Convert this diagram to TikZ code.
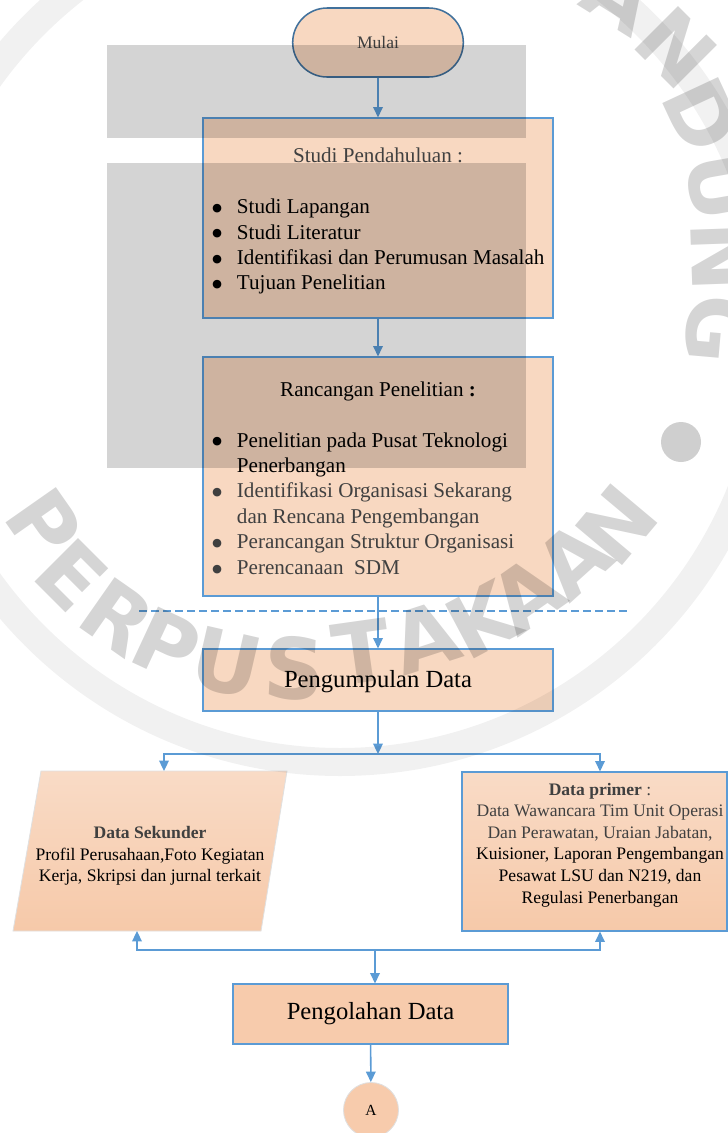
\documentclass[tikz,border=0pt]{standalone}
\usepackage{fontspec}
\usepackage{graphicx}
\setmainfont{Liberation Serif}
\newfontfamily\sealfont{DejaVu Sans}
\usetikzlibrary{arrows.meta,shapes.misc}

\definecolor{peach}{HTML}{F8D8C1}
\definecolor{peachdark}{HTML}{F7CBAC}
\definecolor{peachtop}{HTML}{F9DBC6}
\definecolor{peachbot}{HTML}{F6C9A9}
\definecolor{lineblue}{HTML}{5B9BD5}
\definecolor{edgeblue}{HTML}{41719C}
\definecolor{txtgray}{HTML}{404040}

\newcommand{\px}{0.025cm}
\newcommand{\bigdot}{\raisebox{-0.33em}[0pt][0pt]{\scalebox{1.7}{\textbullet}}}
\newcommand{\bitem}[1]{\makebox[0.65cm][l]{\bigdot}#1}
\newcommand{\toppad}{\rule{0pt}{15pt}}
\newcommand{\halfpad}{\rule{0pt}{12.5pt}}
\newcommand{\bodysize}{\fontsize{15}{18.1}\selectfont}
\newcommand{\smallsize}{\fontsize{12.5}{15.3}\selectfont}
\newcommand{\bigsize}{\fontsize{17.5}{21}\selectfont}

\begin{document}
\begin{tikzpicture}[x=0.025cm, y=-0.025cm,
  box/.style={rectangle, draw=lineblue, line width=0.8pt, fill=peach, inner sep=0pt},
  link/.style={draw=lineblue, line width=1.1pt},
  arrow/.style={link, -{Triangle[length=0.26cm,width=0.24cm]}},
  seal/.style={font=\sealfont\bfseries\fontsize{60}{60}\selectfont, text=black, opacity=0.165, inner sep=0pt},
]
\useasboundingbox (0,0) rectangle (728,1133);

% ---------- flow boxes ----------
\node[rounded rectangle, draw=edgeblue, line width=1.1pt, fill=peach,
      minimum width=180*\px, minimum height=69*\px, text=txtgray,
      font=\fontsize{12.5}{15}\selectfont] (mulai) at (378,42.5) {Mulai};

\node[box, minimum width=350*\px, minimum height=200*\px, align=left, font=\bodysize] (studi) at (378,218) {%
  \makebox[8.35cm][c]{\toppad\color{txtgray}Studi Pendahuluan :}\\[18.1pt]
  \bitem{Studi Lapangan}\\
  \bitem{Studi Literatur}\\
  \bitem{Identifikasi dan Perumusan Masalah}\\
  \bitem{Tujuan Penelitian}};

\node[box, minimum width=350*\px, minimum height=239*\px, align=left, font=\bodysize] (ranc) at (378,476.5) {%
  \makebox[8.35cm][c]{\halfpad Rancangan Penelitian \textbf{:}}\\[18.1pt]
  \bitem{Penelitian pada Pusat Teknologi}\\
  \hspace*{0.65cm}Penerbangan\\
  {\color{txtgray}\bitem{Identifikasi Organisasi Sekarang}}\\
  {\color{txtgray}\hspace*{0.65cm}dan Rencana Pengembangan}\\
  {\color{txtgray}\bitem{Perancangan Struktur Organisasi}}\\
  {\color{txtgray}\bitem{Perencanaan\ \ SDM}}};

\node[box, minimum width=350*\px, minimum height=62*\px, font=\bigsize] (kump) at (378,680) {\toppad Pengumpulan Data};

% secondary data: slanted input/output box
\coordinate (sekTL) at (41,771);
\coordinate (sekTR) at (287,771);
\coordinate (sekBR) at (261,931);
\coordinate (sekBL) at (13,931);
\coordinate (sekIn) at (164,771);
\coordinate (sekOut) at (137,931);
\shade[top color=peachtop, bottom color=peachbot, draw=black!12, line width=0.6pt]
  (sekTL) -- (sekTR) -- (sekBR) -- (sekBL) -- cycle;
\node[align=center, font=\smallsize, inner sep=0pt] (sek) at (150,856) {%
  {\color{txtgray}\textbf{Data Sekunder}}\\
  Profil Perusahaan,Foto Kegiatan\\
  Kerja, Skripsi dan jurnal terkait};

\node[box, top color=peachtop, bottom color=peachbot, minimum width=265*\px, minimum height=159*\px] (prim) at (594.5,851.5) {};
\node[align=center, font=\smallsize, inner sep=0pt] (primtext) at (600,845) {%
  {\color{txtgray}\textbf{Data primer} :}\\
  {\color{txtgray}Data Wawancara Tim Unit Operasi}\\
  {\color{txtgray}Dan Perawatan, Uraian Jabatan,}\\
  Kuisioner, Laporan Pengembangan\\
  Pesawat LSU dan N219, dan\\
  Regulasi Penerbangan};

\node[box, fill=peachdark, minimum width=275*\px, minimum height=60*\px, font=\bigsize] (olah) at (370.5,1014) {Pengolahan Data};

\node[circle, fill=peachdark, draw=black!12, line width=0.6pt, minimum size=55*\px, inner sep=0pt,
      font=\fontsize{11}{13}\selectfont] (A) at (371,1110) {A};

% ---------- connectors ----------
\draw[arrow] (mulai) -- (studi);
\draw[arrow] (studi) -- (ranc);
\draw[arrow] (ranc) -- (kump);
\coordinate (split) at (378,754);
\draw[arrow] (kump) -- (split);
\draw[arrow] (split) -| (sekIn);
\draw[arrow] (split) -| (prim.north -| primtext);
\coordinate (merge) at (375,950);
\draw[arrow] (merge) -| (sekOut);
\draw[arrow] (merge) -| (prim.south -| primtext);
\draw[arrow] (merge) -- (merge |- olah.north);
\draw[arrow] (olah) -- (A);

% dashed separator between the design and data phases
\coordinate (sepL) at (139,611);
\coordinate (sepR) at (631,611);
\draw[link, line width=0.9pt, dash pattern=on 0.2cm off 0.1cm] (sepL) -- (sepR);

% ---------- library seal in the background ----------
\fill[black, opacity=0.17] (107,45) rectangle (526,138);
\fill[black, opacity=0.17] (107,163) rectangle (526,468);
\draw[black, opacity=0.055, line width=28*\px] (340,330) circle[radius=432];
\fill[black, opacity=0.19] (681,442) circle[radius=20];

\node[seal, rotate=-55] (s1) at (44,524) {P};
\node[seal, rotate=-45] (s2) at (72,575) {E};
\node[seal, rotate=-35] (s3) at (118,617) {R};
\node[seal, rotate=-25] (s4) at (167,645) {P};
\node[seal, rotate=-13] (s5) at (227,663) {U};
\node[seal, rotate=-3]  (s6) at (294,668) {S};
\node[seal, rotate=8]   (s7) at (362,652) {T};
\node[seal, rotate=18]  (s8) at (425,637) {A};
\node[seal, rotate=28]  (s9) at (482,620) {K};
\node[seal, rotate=35]  (s10) at (527,595) {A};
\node[seal, rotate=42]  (s11) at (573,560) {A};
\node[seal, rotate=50]  (s12) at (617,525) {N};

\node[seal, rotate=-32] (t1) at (620,-4) {A};
\node[seal, rotate=-45] (t2) at (676,48) {N};
\node[seal, rotate=-65] (t3) at (702,115) {D};
\node[seal, rotate=-80] (t4) at (720,187) {U};
\node[seal, rotate=-88] (t5) at (722,257) {N};
\node[seal, rotate=-95] (t6) at (718,330) {G};
\end{tikzpicture}
\end{document}
